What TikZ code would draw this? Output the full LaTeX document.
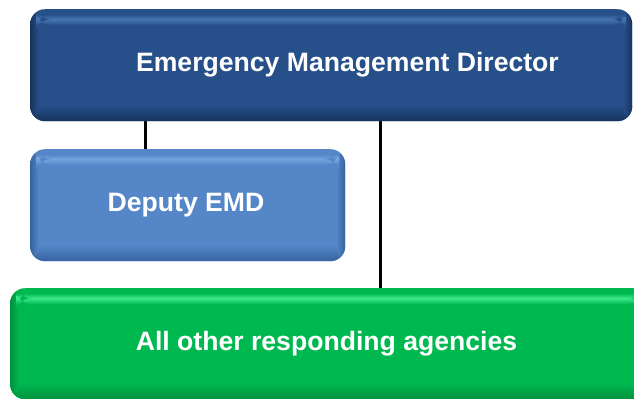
\documentclass[tikz,border=0pt]{standalone}
\usepackage{fontspec}
\setmainfont{Liberation Sans}
\begin{document}
\begin{tikzpicture}[x=1bp,y=-1bp,
  boxtxt/.style={text=white,font=\bfseries\fontsize{26.6bp}{30bp}\selectfont,inner sep=0pt,anchor=base},
  bevel/.style n args={3}{draw=none,rounded corners=15bp,fill=#1,inner sep=0pt,
    path picture={
      \coordinate (sw) at (path picture bounding box.south west);
      \coordinate (ne) at (path picture bounding box.north east);
      \coordinate (se) at (path picture bounding box.south east);
      \coordinate (nw) at (path picture bounding box.north west);
      \shade[top color=#1,bottom color=#3] ([yshift=16bp]sw) rectangle (se);
      \shade[left color=#3,right color=#1] (sw) rectangle ([xshift=9bp]nw);
      \shade[left color=#1,right color=#3] ([xshift=-9bp]se) rectangle (ne);
      \shade[top color=#1,bottom color=#2] ([xshift=6bp,yshift=-5bp]nw) rectangle ([xshift=-6bp,yshift=-10bp]ne);
      \shade[top color=#2,bottom color=#1] ([xshift=6bp,yshift=-10bp]nw) rectangle ([xshift=-6bp,yshift=-16bp]ne);
    }},
  link/.style={line width=3bp,black}]
\useasboundingbox (0,0) rectangle (634,398);
\definecolor{topb}{HTML}{27508A}\definecolor{topl}{HTML}{4575B0}\definecolor{topd}{HTML}{17335C}
\definecolor{depb}{HTML}{5486C8}\definecolor{depl}{HTML}{75A4DE}\definecolor{depd}{HTML}{3763A0}
\definecolor{grnb}{HTML}{00B850}\definecolor{grnl}{HTML}{3CE888}\definecolor{grnd}{HTML}{00923E}
% connectors first (behind boxes)
\coordinate (l1t) at (145,115);
\coordinate (l1b) at (145,155);
\coordinate (l2t) at (380,115);
\coordinate (l2b) at (380,294);
\draw[link] (l1t) -- (l1b);
\draw[link] (l2t) -- (l2b);
% boxes
\node[bevel={topb}{topl}{topd},minimum width=602bp,minimum height=112bp,anchor=north west] (emd) at (30,9) {};
\node[bevel={depb}{depl}{depd},minimum width=315bp,minimum height=112bp,anchor=north west] (dep) at (30,149) {};
\node[bevel={grnb}{grnl}{grnd},minimum width=640bp,minimum height=111bp,anchor=north west] (all) at (10,288) {};
% texts
\node[boxtxt] (emdt) at (347.5,71.7) {Emergency Management Director};
\node[boxtxt] (dept) at (186,211.7) {Deputy EMD};
\node[boxtxt] (allt) at (326.5,350.7) {All other responding agencies};
\end{tikzpicture}
\end{document}
